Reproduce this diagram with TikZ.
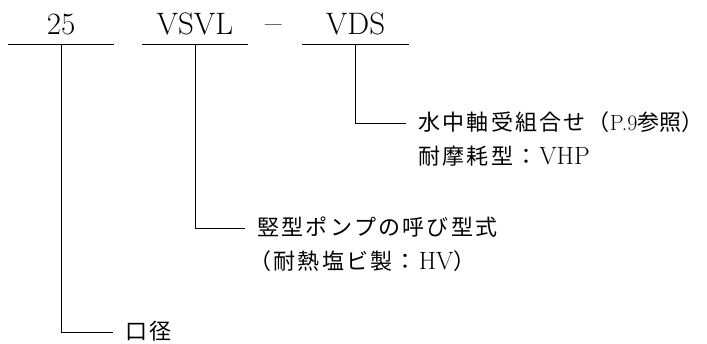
\documentclass[tikz,border=0pt]{standalone}
\usepackage{fontspec}
\newfontfamily\jp{Noto Sans CJK JP}
\usetikzlibrary{positioning}

% letter-spaced Japanese text
\newcommand\jspaced[1]{\jspacedloop#1\relax}
\def\jspacedloop#1{\ifx#1\relax\else#1\hskip2.2pt\expandafter\jspacedloop\fi}
\newcommand\lat[1]{{\fontsize{25}{25}\selectfont #1}}

\begin{document}
\begin{tikzpicture}[x=1pt, y=-1pt, line width=0.8pt, node distance=1cm,
		code/.style={anchor=south, minimum width=106pt, inner xsep=0pt, inner ysep=9pt,
			text height=22pt, text depth=0pt, font=\fontsize{31}{31}\selectfont},
		desc/.style={anchor=west, inner xsep=12pt, inner ysep=0pt,
			text height=16pt, text depth=0pt, font=\fontsize{22}{22}\selectfont}]
			\useasboundingbox (0,0) rectangle (707,344);
			
			% model code
			\node [code] (size) at (61,44) {25};
			\node [code] (model) at (195,44) {VSVL};
			\node [code, minimum width=0pt, font=\fontsize{36}{36}\selectfont] (dash) at (274,44) {\textendash};
			\node [code] (bearing) at (355.5,44) {VDS};
			
			\draw[-] (size.south west) -- (size.south east);
			\draw[-] (model.south west) -- (model.south east);
			\draw[-] (bearing.south west) -- (bearing.south east);
			
			% notes
			\node [desc] (bearingtxt) at (406,123) {{\jp\jspaced{水中軸受組合せ}（}P.9{\jp 参照）}};
			\node [desc, below=17pt of bearingtxt.south west, anchor=north west] (bearingsub) {{\jp\jspaced{耐摩耗型：}}\lat{VHP}};
			
			\node [desc] (modeltxt) at (245,228) {\jp\jspaced{竪型ポンプの呼び型式}};
			\node [desc, below=17pt of modeltxt.south west, anchor=north west, xshift=-8pt] (modelsub) {{\jp\jspaced{（耐熱塩ビ製：}}\lat{HV}{\jp ）}};
			
			\node [desc] (sizetxt) at (113,332) {\jp\jspaced{口径}};
			
			\draw[-] (size.south) |- (sizetxt.west);
			\draw[-] (model.south) |- (modeltxt.west);
			\draw[-] (bearing.south) |- (bearingtxt.west);
		\end{tikzpicture}
\end{document}
